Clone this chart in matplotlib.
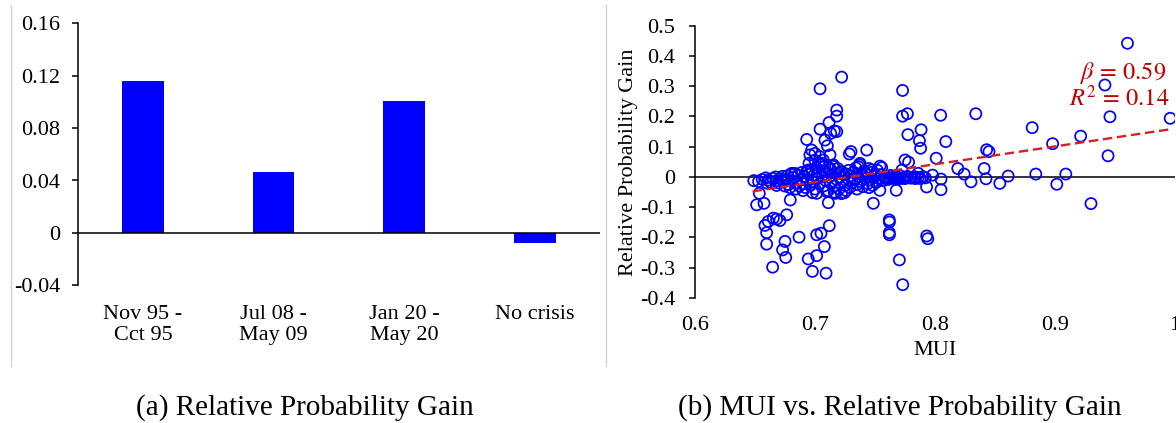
import matplotlib
matplotlib.use("Agg")
import matplotlib.pyplot as plt
from matplotlib.lines import Line2D
import numpy as np

plt.rcParams['font.family'] = ['Liberation Serif', 'DejaVu Serif']
plt.rcParams['mathtext.fontset'] = 'stix'
plt.rcParams['axes.unicode_minus'] = False

# ---------------- data: panel (a) ----------------
categories = ["Nov 95 -\nCct 95", "Jul 08 -\nMay 09", "Jan 20 -\nMay 20", "No crisis"]
gains = [0.116, 0.0467, 0.1008, -0.0076]
bar_yticks = [-0.04, 0, 0.04, 0.08, 0.12, 0.16]
bar_yticklabels = ["-0.04", "0", "0.04", "0.08", "0.12", "0.16"]

# ---------------- data: panel (b) ----------------
mui_outer = [0.9604, 0.9416, 0.9458, 0.9442, 0.996, 0.9214, 0.898, 0.881, 0.884, 0.9015,
             0.909, 0.930, 0.861, 0.854, 0.843, 0.845, 0.841, 0.8425, 0.834, 0.830,
             0.8243, 0.819, 0.809, 0.8047, 0.801, 0.805, 0.805, 0.798, 0.793, 0.794,
             0.7884, 0.787, 0.788, 0.786, 0.790, 0.7837, 0.777, 0.773, 0.773, 0.7774,
             0.775, 0.778, 0.7725, 0.773, 0.7677, 0.7677, 0.762, 0.762, 0.7556, 0.754,
             0.7584, 0.7626, 0.7668, 0.771, 0.7752, 0.7836, 0.7878, 0.792]
rpg_outer = [0.442, 0.304, 0.199, 0.070, 0.194, 0.135, 0.110, 0.163, 0.0096, -0.024,
             0.0096, -0.088, 0.003, -0.021, 0.090, 0.084, 0.028, -0.006, 0.209, -0.016,
             0.0096, 0.028, 0.117, 0.204, 0.062, -0.007, -0.042, 0.006, -0.033, -0.204,
             0.156, 0.120, 0.095, 0.012, 0.001, -0.005, 0.209, 0.201, 0.286, 0.140,
             0.056, 0.049, 0.023, -0.005, -0.007, -0.044, -0.149, -0.191, 0.031, -0.044,
             -0.005, -0.004, -0.006, -0.003, -0.005, -0.004, -0.005, -0.003]

mui_upper = [0.7222, 0.7042, 0.7181, 0.7181, 0.7117, 0.7042, 0.7131, 0.7161, 0.7181, 0.6931,
             0.7083, 0.7103, 0.7125, 0.6972, 0.6958, 0.7042, 0.7069, 0.700, 0.7286, 0.730,
             0.7431, 0.7542, 0.7375, 0.736, 0.7153, 0.7125, 0.7056, 0.6944, 0.6806, 0.7208,
             0.7472, 0.7417]
rpg_upper = [0.330, 0.2915, 0.221, 0.201, 0.180, 0.158, 0.144, 0.152, 0.150, 0.124,
             0.122, 0.103, 0.073, 0.089, 0.073, 0.067, 0.056, 0.078, 0.076, 0.084,
             0.089, 0.036, 0.045, 0.034, 0.040, 0.029, 0.045, 0.023, 0.012, 0.012,
             0.023, 0.012]

mui_lower = [0.6536, 0.6514, 0.6575, 0.6583, 0.6611, 0.6597, 0.6597, 0.6647, 0.6653, 0.668,
             0.6708, 0.6764, 0.673, 0.675, 0.6756, 0.6794, 0.6867, 0.6944, 0.6978, 0.7014,
             0.705, 0.7014, 0.7078, 0.7092, 0.7119, 0.7111, 0.7014, 0.7097, 0.7486, 0.7619,
             0.7619, 0.7703, 0.7731, 0.7931, 0.717, 0.7245]
rpg_lower = [-0.054, -0.092, -0.087, -0.160, -0.147, -0.184, -0.222, -0.298, -0.136, -0.139,
             -0.144, -0.125, -0.241, -0.213, -0.266, -0.076, -0.199, -0.271, -0.312, -0.191,
             -0.186, -0.260, -0.230, -0.318, -0.161, -0.085, -0.054, -0.048, -0.087, -0.142,
             -0.184, -0.274, -0.356, -0.195, -0.054, -0.052]

mui_cluster = [0.649, 0.653, 0.656, 0.659, 0.661, 0.663, 0.665, 0.667, 0.668, 0.670,
               0.671, 0.673, 0.674, 0.676, 0.677, 0.678, 0.679, 0.680, 0.681, 0.682,
               0.683, 0.684, 0.686, 0.687, 0.688, 0.689, 0.690, 0.691, 0.692, 0.693,
               0.694, 0.695, 0.696, 0.697, 0.698, 0.699, 0.700, 0.701, 0.702, 0.703,
               0.704, 0.705, 0.706, 0.707, 0.708, 0.709, 0.710, 0.711, 0.712, 0.713,
               0.714, 0.715, 0.716, 0.717, 0.718, 0.719, 0.720, 0.721, 0.722, 0.723,
               0.724, 0.725, 0.726, 0.727, 0.728, 0.729, 0.730, 0.731, 0.732, 0.733,
               0.734, 0.735, 0.736, 0.737, 0.738, 0.739, 0.740, 0.741, 0.742, 0.743,
               0.744, 0.745, 0.746, 0.747, 0.748, 0.749, 0.750, 0.751, 0.752, 0.753,
               0.755, 0.757, 0.759, 0.761, 0.763, 0.765, 0.767, 0.769, 0.771, 0.774,
               0.777, 0.780, 0.783, 0.786,
               0.695, 0.700, 0.703, 0.708, 0.690, 0.698, 0.716, 0.722, 0.726, 0.735,
               0.745, 0.660, 0.668, 0.675, 0.684]
rpg_cluster = [-0.012, -0.015, -0.008, -0.003, -0.010, -0.018, -0.005, 0.000, -0.012, -0.020,
               -0.006, 0.002, -0.015, -0.008, 0.004, -0.025, -0.035, 0.008, -0.012, -0.002,
               0.012, -0.020, 0.005, -0.030, -0.010, 0.015, -0.022, 0.002, -0.035, 0.018,
               -0.008, 0.010, -0.028, 0.022, -0.015, 0.005, -0.040, 0.030, -0.005, 0.015,
               -0.022, 0.040, 0.000, -0.030, 0.020, -0.012, 0.008, -0.045, 0.025, -0.020,
               0.005, 0.035, -0.030, 0.012, -0.008, 0.028, -0.040, 0.000, 0.018, -0.015,
               0.008, -0.028, 0.010, -0.005, 0.022, -0.035, 0.004, -0.018, 0.015, -0.008,
               0.030, -0.025, 0.002, 0.040, -0.015, 0.012, -0.032, 0.020, -0.005, 0.008,
               -0.022, 0.028, -0.010, 0.015, -0.028, 0.003, 0.010, -0.018, 0.022, -0.005,
               0.008, -0.012, 0.002, -0.008, 0.005, -0.002, 0.003, -0.006, 0.004, -0.003,
               0.002, -0.004, 0.001, -0.002,
               0.045, 0.055, 0.048, 0.035, -0.045, -0.052, -0.050, -0.055, -0.045, -0.040,
               -0.035, -0.020, -0.028, -0.030, -0.040]

beta = 0.59
intercept = -0.43
r2 = 0.14
fit_range = [0.648, 0.997]
scatter_xticks = [0.6, 0.7, 0.8, 0.9, 1.0]
scatter_xticklabels = ["0.6", "0.7", "0.8", "0.9", "1"]
scatter_yticks = [-0.4, -0.3, -0.2, -0.1, 0, 0.1, 0.2, 0.3, 0.4, 0.5]
scatter_yticklabels = ["-0.4", "-0.3", "-0.2", "-0.1", "0", "0.1", "0.2", "0.3", "0.4", "0.5"]

W, H = 1176, 423
fig = plt.figure(figsize=(W / 100, H / 100), dpi=100)

def px_axes(x0, y0, x1, y1):
    return fig.add_axes([x0 / W, 1 - y1 / H, (x1 - x0) / W, (y1 - y0) / H])

BLUE = "#0000FF"
RED_T = "#C00000"
RED_L = "#D02424"
FS = 16

# ---------------- panel (a) ----------------
ax1 = px_axes(77.7, 23.3, 600, 285.3)
xpos = np.arange(len(categories))
ax1.bar(xpos, gains, width=0.32, color=BLUE, zorder=2)
ax1.set_xlim(-0.5, len(categories) - 0.5)
ax1.set_ylim(-0.04, 0.16)
ax1.axhline(0, color="black", lw=1.1, zorder=3)
for s in ["top", "right", "bottom"]:
    ax1.spines[s].set_visible(False)
ax1.spines["left"].set_linewidth(1.1)
ax1.set_yticks(bar_yticks)
ax1.set_yticklabels(bar_yticklabels)
ax1.set_xticks(xpos)
ax1.set_xticklabels(categories, linespacing=1.15)
ax1.tick_params(axis="y", direction="out", length=4.3, width=1.1, pad=8, labelsize=FS)
ax1.tick_params(axis="x", length=0, pad=14, labelsize=FS)

# ---------------- panel (b) ----------------
ax2 = px_axes(695, 25.7, 1175, 298)
mui_all = mui_cluster + mui_lower + mui_upper + mui_outer
rpg_all = rpg_cluster + rpg_lower + rpg_upper + rpg_outer
ax2.scatter(mui_all, rpg_all, s=64, facecolors="none", edgecolors=BLUE, linewidths=1.25, zorder=2)
ax2.axhline(0, color="black", lw=1.1, zorder=1)
fx = np.array(fit_range)
ax2.plot(fx, intercept + beta * fx, ls="--", color=RED_L, lw=1.7, dashes=(4, 2), zorder=3)
ax2.set_xlim(0.6, 1.0)
ax2.set_ylim(-0.4, 0.5)
for s in ["top", "right", "bottom"]:
    ax2.spines[s].set_visible(False)
ax2.spines["left"].set_linewidth(1.1)
ax2.set_xticks(scatter_xticks)
ax2.set_xticklabels(scatter_xticklabels)
ax2.set_yticks(scatter_yticks)
ax2.set_yticklabels(scatter_yticklabels)
ax2.tick_params(axis="y", direction="out", length=4.3, width=1.1, pad=10, labelsize=FS)
ax2.tick_params(axis="x", length=0, pad=13, labelsize=FS)
ax2.set_xlabel("MUI", fontsize=FS, labelpad=4)
ax2.set_ylabel("Relative Probability Gain", fontsize=FS, labelpad=1)
ax2.text(0.993, 0.343, r"$\beta\,=\,%.2f$" % beta, color=RED_T, fontsize=17.5,
         ha="right", va="center", zorder=4)
ax2.text(0.995, 0.261, r"$R^2\,=\,%.2f$" % r2, color=RED_T, fontsize=17.5,
         ha="right", va="center", zorder=4)

# ---------------- captions and panel dividers ----------------
fig.text(305 / W, 1 - 408 / H, "(a) Relative Probability Gain", fontsize=21,
         ha="center", va="center")
fig.text(900 / W, 1 - 408 / H, "(b) MUI vs. Relative Probability Gain", fontsize=21,
         ha="center", va="center")
for xp in (11, 606):
    fig.add_artist(Line2D([xp / W, xp / W], [1 - 5 / H, 1 - 366 / H],
                          transform=fig.transFigure, color="#d4d4d4", lw=1.0))

fig.savefig("out.png", dpi=100)
